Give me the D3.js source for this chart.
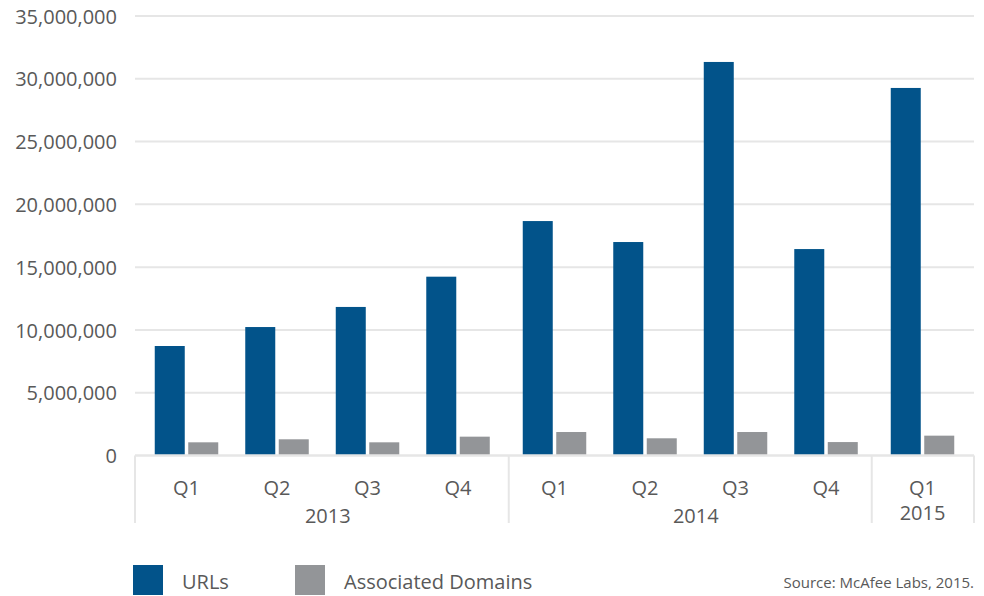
<!DOCTYPE html>
<html>
<head>
<meta charset="utf-8">
<script src="https://cdn.jsdelivr.net/npm/d3@7/dist/d3.min.js"></script>
<style>
  html, body { margin: 0; padding: 0; background: #fff; }
  svg { display: block; font-family: "Open Sans", "Noto Sans", sans-serif; }
</style>
</head>
<body>
<svg id="chart" width="984" height="596"></svg>
<script>
const years = ["2013", "2014", "2015"];
const quarters = ["Q1", "Q2", "Q3", "Q4", "Q1", "Q2", "Q3", "Q4", "Q1"];
const quarterYear = ["2013", "2013", "2013", "2013", "2014", "2014", "2014", "2014", "2015"];
const urls = [8720000, 10230000, 11830000, 14240000, 18670000, 17000000, 31340000, 16440000, 29270000];
const domains = [1050000, 1290000, 1050000, 1500000, 1870000, 1370000, 1870000, 1070000, 1580000];
const seriesNames = ["URLs", "Associated Domains"];
const yTicks = [0, 5000000, 10000000, 15000000, 20000000, 25000000, 30000000, 35000000];
const sourceText = "Source: McAfee Labs, 2015.";

const colors = { "URLs": "#02538a", "Associated Domains": "#939598" };
const textColor = "#595959";
const gridColor = "#e6e6e6";

const svg = d3.select("#chart");
const plotLeft = 135, plotRight = 974, plotTop = 16, plotBottom = 455.5;

const y = d3.scaleLinear().domain([0, 35000000]).range([plotBottom, plotTop]);

// position index with a small extra gap between year groups
const groupGap = 0.066;
const pos = quarters.map((q, i) => i + groupGap * years.indexOf(quarterYear[i]));
const x = d3.scaleLinear().domain([pos[0], pos[pos.length - 1]]).range([186.5, 922.5]);
const barW = 30, barGap = 3.5;

// gridlines
svg.append("g").selectAll("line").data(yTicks.filter(d => d > 0)).join("line")
  .attr("x1", plotLeft).attr("x2", plotRight)
  .attr("y1", d => y(d)).attr("y2", d => y(d))
  .attr("stroke", gridColor).attr("stroke-width", 2);

// y axis labels
const yAxis = d3.axisLeft(y).tickValues(yTicks).tickSize(0).tickPadding(0)
  .tickFormat(d3.format(","));
const yg = svg.append("g").attr("transform", `translate(117,0)`).call(yAxis);
yg.select(".domain").remove();
yg.selectAll("text").attr("fill", textColor).style("font-size", "20px")
  .attr("font-family", "'Open Sans', 'Noto Sans', sans-serif").attr("dy", "0.36em");

// bars
const barsData = [];
quarters.forEach((q, i) => {
  barsData.push({ i, s: "URLs", v: urls[i], off: -barGap / 2 - barW });
  barsData.push({ i, s: "Associated Domains", v: domains[i], off: barGap / 2 });
});
svg.append("g").selectAll("rect").data(barsData).join("rect")
  .attr("x", d => x(pos[d.i]) + d.off)
  .attr("y", d => y(d.v))
  .attr("width", barW)
  .attr("height", d => y(0) - y(d.v))
  .attr("fill", d => colors[d.s]);

// axis baseline and category separators
svg.append("line").attr("x1", plotLeft).attr("x2", plotRight)
  .attr("y1", plotBottom).attr("y2", plotBottom)
  .attr("stroke", gridColor).attr("stroke-width", 2.5);

const sepXs = [plotLeft];
const sepShift = [0, 2.5, -2.5];
years.forEach((yr, k) => {
  if (k > 0) {
    const firstIdx = quarterYear.indexOf(yr);
    sepXs.push((x(pos[firstIdx - 1]) + x(pos[firstIdx])) / 2 + sepShift[k]);
  }
});
sepXs.push(plotRight);
svg.append("g").selectAll("line").data(sepXs).join("line")
  .attr("x1", d => d).attr("x2", d => d)
  .attr("y1", plotBottom).attr("y2", 523)
  .attr("stroke", gridColor).attr("stroke-width", 2);

// quarter labels
svg.append("g").selectAll("text").data(quarters).join("text")
  .attr("x", (d, i) => x(pos[i]))
  .attr("y", 495)
  .attr("text-anchor", "middle")
  .attr("fill", textColor).style("font-size", "20px")
  .text(d => d);

// year labels
svg.append("g").selectAll("text").data(years).join("text")
  .attr("x", yr => {
    const idx = quarterYear.map((v, i) => v === yr ? i : -1).filter(i => i >= 0);
    const c = (x(pos[idx[0]]) + x(pos[idx[idx.length - 1]])) / 2;
    return idx.length > 1 ? c + 5.5 : c;
  })
  .attr("y", yr => yr === "2015" ? 520 : 522.5)
  .attr("text-anchor", "middle")
  .attr("fill", textColor).style("font-size", "20px")
  .text(d => d);

// legend
const legendX = [133, 295];
const lg = svg.append("g").selectAll("g").data(seriesNames).join("g")
  .attr("transform", (d, i) => `translate(${legendX[i]},565)`);
lg.append("rect").attr("width", 30).attr("height", 30).attr("fill", d => colors[d]);
lg.append("text").attr("x", 49).attr("y", 23.5).attr("fill", textColor)
  .style("font-size", "20px").text(d => d);

// source
svg.append("text").attr("x", 974).attr("y", 588).attr("text-anchor", "end")
  .attr("fill", textColor).style("font-size", "15px").text(sourceText);
</script>
</body>
</html>
